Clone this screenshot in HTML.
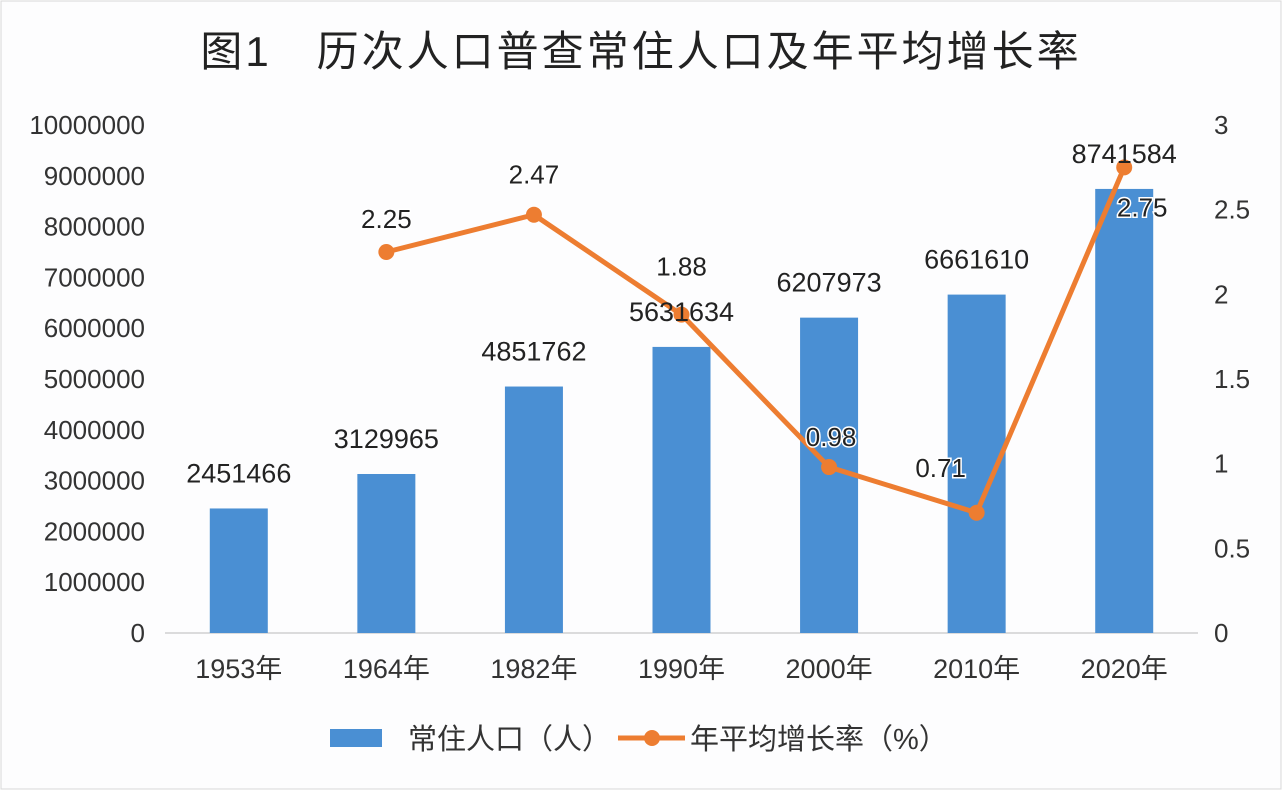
<!DOCTYPE html>
<html><head><meta charset="utf-8"><style>
body{margin:0;background:#fff;}
svg{display:block;font-family:"Liberation Sans","Noto Sans CJK SC",sans-serif;}
</style></head><body>
<svg id="chart" width="1282" height="790" viewBox="0 0 1282 790">
<rect x="1" y="1" width="1280" height="788" fill="#fdfdfe" stroke="#d8d8d8"/>
<text x="641" y="66" text-anchor="middle" font-size="42" letter-spacing="3" fill="#222">图1　历次人口普查常住人口及年平均增长率</text>
<g id="axes"></g><g id="bars"></g><g id="line"></g><g id="labels"></g>
<g>
<rect x="330" y="729" width="52" height="18" fill="#4a8fd3"/>
<text x="408" y="749" font-size="29" fill="#333">常住人口（人）</text>
<line x1="618" y1="738" x2="685" y2="738" stroke="#ed7d31" stroke-width="5"/>
<circle cx="652" cy="738" r="8" fill="#ed7d31"/>
<text x="690" y="749" font-size="29" fill="#333">年平均增长率（%）</text>
</g>
</svg>
<script>
const categories=["1953年","1964年","1982年","1990年","2000年","2010年","2020年"];
const population=[2451466,3129965,4851762,5631634,6207973,6661610,8741584];
const growthRate=[null,2.25,2.47,1.88,0.98,0.71,2.75];
const leftTicks=[0,1000000,2000000,3000000,4000000,5000000,6000000,7000000,8000000,9000000,10000000];
const rightTicks=[0,0.5,1,1.5,2,2.5,3];
const rateLabelOffsets=[null,[0,-33],[0,-40],[0,-48],[2,-30],[-36,-45],[18,40]];
const NS="http://www.w3.org/2000/svg";
const y0=633,yTop=125,x0=165,x1=1198;
const yL=v=>y0-(v/10000000)*(y0-yTop);
const yR=v=>y0-(v/3)*(y0-yTop);
const step=(x1-x0)/categories.length;
const xC=i=>x0+step*(i+0.5);
function mk(tag,attrs,parent,txt){const e=document.createElementNS(NS,tag);for(const k in attrs)e.setAttribute(k,attrs[k]);if(txt!==undefined)e.textContent=txt;document.getElementById(parent).appendChild(e);return e;}
const ax=mk("line",{x1:x0,x2:x1,y1:y0,y2:y0,stroke:"#d0d0d0","stroke-width":1.5},"axes");


leftTicks.forEach(t=>{const e=mk("text",{x:145,y:yL(t)+9,"text-anchor":"end","font-size":26,fill:"#333"},"axes",String(t));

});
rightTicks.forEach(t=>{const e=mk("text",{x:1214,y:yR(t)+9,"font-size":26,fill:"#333"},"axes",String(t));

});
categories.forEach((c,i)=>{const e=mk("text",{x:xC(i),y:678,"text-anchor":"middle","font-size":27,fill:"#333"},"axes",c);

});
const bw=58;
population.forEach((v,i)=>{const b=mk("rect",{x:xC(i)-bw/2,y:yL(v),width:bw,height:y0-yL(v),fill:"#4a8fd3"},"bars");


const t=mk("text",{x:xC(i),y:yL(v)-26,"text-anchor":"middle","font-size":27,fill:"#222"},"labels",String(v));

});
const pts=[];growthRate.forEach((v,i)=>{if(v!==null)pts.push([xC(i),yR(v),v,i]);});
const pl=mk("polyline",{points:pts.map(p=>p[0]+","+p[1]).join(" "),fill:"none",stroke:"#ed7d31","stroke-width":5,"stroke-linejoin":"round"},"line");


pts.forEach(p=>{const c=mk("circle",{cx:p[0],cy:p[1],r:8,fill:"#ed7d31"},"line");


const o=rateLabelOffsets[p[3]];
const t=mk("text",{x:p[0]+o[0],y:p[1]+o[1]+9,"text-anchor":"middle","font-size":26,fill:"#222",stroke:"#fff","stroke-width":3,"paint-order":"stroke"},"labels",p[2].toFixed(2));

});
</script>
</body></html>
